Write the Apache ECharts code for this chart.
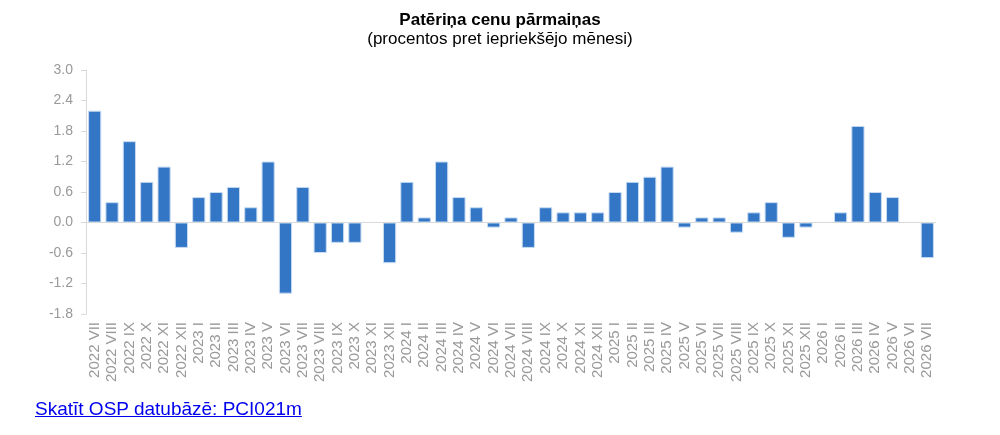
<!DOCTYPE html>
<html>
<head>
<meta charset="utf-8">
<script src="https://cdn.jsdelivr.net/npm/echarts@6/dist/echarts.min.js"></script>
<style>
  html, body { margin: 0; padding: 0; background: #fff; }
  #chart { width: 1000px; height: 435px; }
  .osp { position: absolute; left: 35px; top: 398px; font-family: "Liberation Sans", Arial, sans-serif; font-size: 19px; color: #0000ee; text-decoration: underline; }
</style>
</head>
<body>
<div id="chart"></div>
<a class="osp" href="#">Skatīt OSP datubāzē: PCI021m</a>
<script>
// mēneši (romiešu cipari)
var categories = [
  "2022 VII", "2022 VIII", "2022 IX", "2022 X", "2022 XI", "2022 XII",
  "2023 I", "2023 II", "2023 III", "2023 IV", "2023 V", "2023 VI",
  "2023 VII", "2023 VIII", "2023 IX", "2023 X", "2023 XI", "2023 XII",
  "2024 I", "2024 II", "2024 III", "2024 IV", "2024 V", "2024 VI",
  "2024 VII", "2024 VIII", "2024 IX", "2024 X", "2024 XI", "2024 XII",
  "2025 I", "2025 II", "2025 III", "2025 IV", "2025 V", "2025 VI",
  "2025 VII", "2025 VIII", "2025 IX", "2025 X", "2025 XI", "2025 XII",
  "2026 I", "2026 II", "2026 III", "2026 IV", "2026 V", "2026 VI", "2026 VII"
];
// izmaiņas % pret iepriekšējo mēnesi
var values = [
  2.2, 0.4, 1.6, 0.8, 1.1, -0.5,
  0.5, 0.6, 0.7, 0.3, 1.2, -1.4,
  0.7, -0.6, -0.4, -0.4, 0.0, -0.8,
  0.8, 0.1, 1.2, 0.5, 0.3, -0.1,
  0.1, -0.5, 0.3, 0.2, 0.2, 0.2,
  0.6, 0.8, 0.9, 1.1, -0.1, 0.1,
  0.1, -0.2, 0.2, 0.4, -0.3, -0.1,
  0.0, 0.2, 1.9, 0.6, 0.5, 0.0, -0.7
];
var yMin = -1.8, yMax = 3.0, yStep = 0.6;

(function () {
  var myChart = echarts.init(document.getElementById("chart"));
  var font = "Liberation Sans";
  var option = {
    animation: false,
    title: {
      text: "Patēriņa cenu pārmaiņas",
      subtext: "(procentos pret iepriekšējo mēnesi)",
      left: "center",
      top: 7,
      itemGap: 2,
      textStyle: { fontFamily: font, fontSize: 17, fontWeight: "bold", color: "#000" },
      subtextStyle: { fontFamily: font, fontSize: 17, color: "#000" }
    },
    grid: { left: 86, right: 64, top: 70, bottom: 121 },
    xAxis: {
      type: "category",
      data: categories,
      axisLine: { show: false },
      axisTick: { show: false },
      axisLabel: {
        interval: 0,
        rotate: 90,
        margin: 8,
        color: "#999",
        fontFamily: font,
        fontSize: 15
      }
    },
    yAxis: {
      type: "value",
      min: yMin,
      max: yMax,
      interval: yStep,
      axisLine: { show: true, lineStyle: { color: "#d9d9d9", width: 1 } },
      axisTick: { show: true, inside: false, length: 5, lineStyle: { color: "#d9d9d9" } },
      splitLine: { show: false },
      axisLabel: {
        color: "#999",
        fontFamily: font,
        fontSize: 14,
        margin: 13,
        formatter: function (v) { return (Math.round(v * 10) / 10).toFixed(1); }
      }
    },
    series: [
      {
        type: "bar",
        data: values,
        barCategoryGap: "24%",
        itemStyle: { color: "#3376c6", borderColor: "#c6dbf2", borderWidth: 1 },
        markLine: {
          silent: true,
          symbol: "none",
          label: { show: false },
          lineStyle: { color: "#d9d9d9", type: "solid", width: 1 },
          data: [{ yAxis: 0 }]
        }
      }
    ]
  };
  myChart.setOption(option);
})();
</script>
</body>
</html>
